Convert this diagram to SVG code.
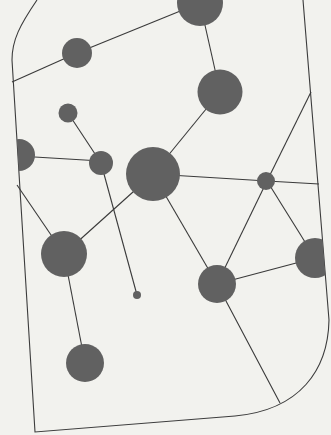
<svg xmlns="http://www.w3.org/2000/svg" width="331" height="435" viewBox="0 0 331 435">
<style>
.bg{fill:#f2f2ee}
.outline{fill:none;stroke:#3c3c3c;stroke-width:1.1}
.edge{stroke:#3a3a3a;stroke-width:1.1;fill:none}
.node{fill:#616161}
</style>
<defs>
<clipPath id="inside">
<path d="M37,-5 L37,0 C20,25 12,40 12,60 L35,432 L235,416 C300,410 328,370 329,320 L303,0 L303,-5 Z"/>
</clipPath>
</defs>
<rect class="bg" x="0" y="0" width="331" height="435"/>
<path class="outline" d="M37,0 C20,25 12,40 12,60 L35,432 L235,416 C300,410 328,370 329,320 L303,0"/>
<g id="connectors">
<line class="edge" x1="12" y1="82" x2="77" y2="53"/>
<line class="edge" x1="77" y1="53" x2="200" y2="3"/>
<line class="edge" x1="200" y1="3" x2="220" y2="92"/>
<line class="edge" x1="220" y1="92" x2="153" y2="174"/>
<line class="edge" x1="68" y1="113" x2="101" y2="163"/>
<line class="edge" x1="18" y1="156" x2="101" y2="161"/>
<line class="edge" x1="101" y1="163" x2="137" y2="295"/>
<line class="edge" x1="153" y1="174" x2="64" y2="254"/>
<line class="edge" x1="153" y1="174" x2="267" y2="181"/>
<line class="edge" x1="267" y1="181" x2="319" y2="184"/>
<line class="edge" x1="311" y1="92" x2="267" y2="181"/>
<line class="edge" x1="267" y1="181" x2="217" y2="284"/>
<line class="edge" x1="267" y1="181" x2="315" y2="258"/>
<line class="edge" x1="153" y1="174" x2="217" y2="284"/>
<line class="edge" x1="217" y1="284" x2="315" y2="258"/>
<line class="edge" x1="217" y1="284" x2="280" y2="403"/>
<line class="edge" x1="64" y1="254" x2="85" y2="363"/>
<line class="edge" x1="17" y1="185" x2="64" y2="254"/>
</g>
<g clip-path="url(#inside)">
<g id="n1"><circle class="node" cx="200" cy="3" r="23"/></g>
<g id="n2"><circle class="node" cx="77" cy="53" r="15"/></g>
<g id="n3"><circle class="node" cx="220" cy="92" r="22.5"/></g>
<g id="n4"><circle class="node" cx="68" cy="113" r="9.5"/></g>
<g id="n5"><circle class="node" cx="19" cy="155" r="16"/></g>
<g id="n6"><circle class="node" cx="101" cy="163" r="12"/></g>
<g id="n7"><circle class="node" cx="153" cy="174" r="27"/></g>
<g id="n8"><circle class="node" cx="266" cy="181" r="9"/></g>
<g id="n9"><circle class="node" cx="64" cy="254" r="23"/></g>
<g id="n10"><circle class="node" cx="137" cy="295" r="4"/></g>
<g id="n11"><circle class="node" cx="217" cy="284" r="19"/></g>
<g id="n12"><circle class="node" cx="315" cy="258" r="20"/></g>
<g id="n13"><circle class="node" cx="85" cy="363" r="19"/></g>
</g>
</svg>
